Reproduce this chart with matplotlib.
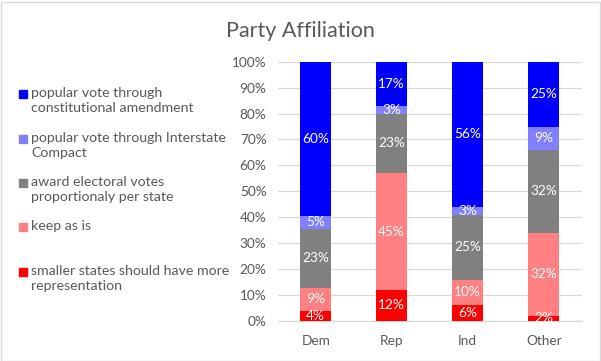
import matplotlib
matplotlib.use('Agg')
import matplotlib.pyplot as plt
from matplotlib.patches import Rectangle
import numpy as np

plt.rcParams['font.family'] = ['Lato', 'DejaVu Sans']

# Data (percent of each party group)
parties = ['Dem', 'Rep', 'Ind', 'Other']
series_names = [
    'smaller states should have more\nrepresentation',
    'keep as is',
    'award electoral votes\nproportionaly per state',
    'popular vote through Interstate\nCompact',
    'popular vote through\nconstitutional amendment',
]
smaller_states = [4, 12, 6, 2]
keep_as_is = [9, 45, 10, 32]
proportional = [23, 23, 25, 32]
interstate_compact = [5, 3, 3, 9]
amendment = [60, 17, 56, 25]
colors = ['#FF0000', '#FF8080', '#808080', '#8080FF', '#0000FF']

values = np.array([smaller_states, keep_as_is, proportional,
                   interstate_compact, amendment], dtype=float)
shares = values / values.sum(axis=0) * 100  # 100% stacked

text_col = '#595959'
grid_col = '#d9d9d9'

fig = plt.figure(figsize=(6.01, 3.61), dpi=100)
ax = fig.add_axes([277.7 / 601, 1 - 321 / 361, 304 / 601, 259.3 / 361])

x = np.arange(len(parties))
bottom = np.zeros(len(parties))
for i in range(len(values)):
    ax.bar(x, shares[i], 0.41, bottom=bottom, color=colors[i], zorder=3)
    for j in range(len(parties)):
        ax.text(x[j], bottom[j] + shares[i][j] / 2, '%d%%' % values[i][j],
                ha='center', va='center', color='white', fontsize=9.8, zorder=4)
    bottom += shares[i]

ax.set_xlim(-0.5, 3.5)
ax.set_ylim(0, 100)
ax.set_yticks(np.arange(0, 101, 10))
ax.set_yticklabels(['%d%%' % v for v in range(0, 101, 10)])
ax.set_xticks(x)
ax.set_xticklabels(parties)
ax.tick_params(axis='both', length=0, colors=text_col, labelsize=9.8)
ax.tick_params(axis='x', pad=10)
ax.tick_params(axis='y', pad=8)
ax.grid(axis='y', color=grid_col, linewidth=0.9, zorder=0)
for s in ['top', 'left', 'right']:
    ax.spines[s].set_visible(False)
ax.spines['bottom'].set_color(grid_col)
ax.spines['bottom'].set_linewidth(0.9)

fig.text(300 / 601, 1 - 31 / 361, 'Party Affiliation', ha='center', va='center',
         fontsize=15.5, color=text_col)

# legend drawn on the left, top entry first
leg_y = [94, 139, 183, 227, 272]
for k, i in enumerate(range(len(values) - 1, -1, -1)):
    y = leg_y[k]
    fig.patches.append(Rectangle((19 / 601, 1 - (y + 4) / 361), 8 / 601, 8 / 361,
                                 transform=fig.transFigure, color=colors[i]))
    fig.text(31 / 601, 1 - (y - 7) / 361, series_names[i], ha='left', va='top',
             fontsize=10.2, color=text_col, linespacing=1.27)

fig.patches.append(Rectangle((0.5 / 601, 0.5 / 361), 599 / 601, 359 / 361,
                             transform=fig.transFigure, fill=False,
                             edgecolor=grid_col, linewidth=1))

fig.savefig('out.png', dpi=100)
